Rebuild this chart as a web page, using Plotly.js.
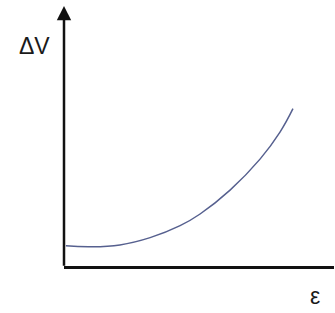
<!DOCTYPE html>
<html>
<head>
<meta charset="utf-8">
<script src="https://cdn.plot.ly/plotly-3.0.1.min.js"></script>
<style>html,body{margin:0;padding:0;background:#fff;}#chart{width:335px;height:313px;}</style>
</head>
<body>
<div id="chart"></div>
<script>
// strain (epsilon) values, arbitrary units
const strain = [0.07, 0.96, 2.07, 3.19, 4.30, 5.04, 6.15, 7.26, 8.00, 8.48];
// voltage change (delta V), arbitrary units
const deltaV = [0.78, 0.74, 0.81, 1.09, 1.55, 2.00, 2.92, 4.11, 5.15, 6.05];
const xLabel = 'ε';
const yLabel = 'ΔV';

const trace = {
  x: strain, y: deltaV, type: 'scatter', mode: 'lines',
  line: {color: '#56608f', width: 1.5, shape: 'spline', smoothing: 1.2},
  hoverinfo: 'skip'
};

const axisCommon = {
  showgrid: false, zeroline: false, showticklabels: false, ticks: '',
  fixedrange: true
};

const plotW = 335 - 64 - 1, plotH = 313 - 6 - 47;
const labelFont = {family: 'Liberation Sans, Arial, sans-serif', size: 23, color: '#1a1a1a'};

const layout = {
  width: 335, height: 313,
  margin: {l: 64, r: 1, t: 6, b: 47},
  paper_bgcolor: '#ffffff', plot_bgcolor: '#ffffff',
  showlegend: false,
  xaxis: Object.assign({}, axisCommon, {range: [0, 10], showline: true, linecolor: '#111', linewidth: 2.5}),
  yaxis: Object.assign({}, axisCommon, {range: [0, 10], showline: false}),
  annotations: [
    {x: 0, y: 10, xref: 'x', yref: 'y', ax: 0, ay: -0.05, axref: 'x', ayref: 'y',
     showarrow: true, arrowhead: 2, arrowsize: 1.15, arrowwidth: 2.5, arrowcolor: '#111', text: ''},
    {x: (34 - 64) / plotW, y: (313 - 46 - 47) / plotH, xref: 'paper', yref: 'paper',
     xanchor: 'center', yanchor: 'middle', text: yLabel, showarrow: false, font: labelFont},
    {x: (315 - 64) / plotW, y: (313 - 296 - 47) / plotH, xref: 'paper', yref: 'paper',
     xanchor: 'center', yanchor: 'middle', text: xLabel, showarrow: false, font: labelFont}
  ]
};

Plotly.newPlot('chart', [trace], layout, {displayModeBar: false, staticPlot: true});
</script>
</body>
</html>
